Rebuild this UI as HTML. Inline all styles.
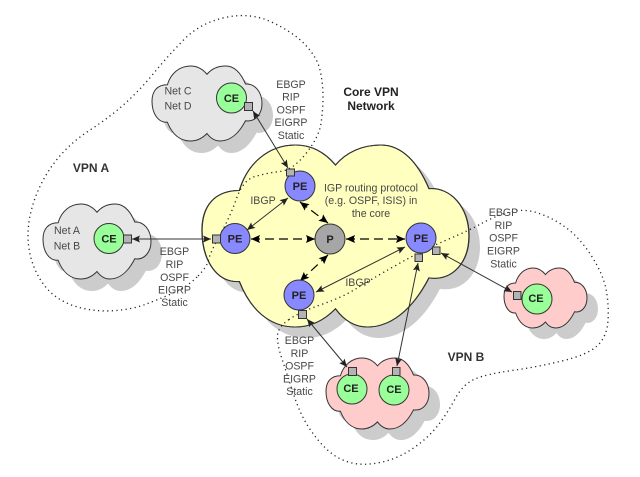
<!DOCTYPE html>
<html><head><meta charset="utf-8">
<style>
html,body{margin:0;padding:0;background:#fff;width:640px;height:477px;overflow:hidden}
svg{display:block}
text{font-family:"Liberation Sans",Arial,sans-serif}
.t text,.t{font-size:10.6px;fill:#484848;text-anchor:middle}
.b{font-size:12px;font-weight:bold;fill:#333;text-anchor:middle}
.h{font-size:12px;font-weight:bold;fill:#222;text-anchor:middle}
.n{font-size:11px;font-weight:bold;fill:#222;text-anchor:middle}
.c{vector-effect:non-scaling-stroke}
</style></head><body>
<svg width="640" height="477" viewBox="0 0 640 477" xmlns="http://www.w3.org/2000/svg">
<defs>
<path id="cl" d="M14,75C5,76 0,62 0,47C0,33 5,25 14,25C17,10 25,0 35,0C41,0 46,4 50,11C54,4 60,0 67,0C75,0 81,10 85,24C93,23 100,34 100,50C100,64 94,75 85,73C79,90 71,100 62,100C57,100 53,96 50,90C46,96 41,100 35,100C25,100 18,90 14,75Z"/>
<marker id="a" viewBox="0 0 8 8" refX="8" refY="4" markerWidth="8" markerHeight="8" markerUnits="userSpaceOnUse" orient="auto-start-reverse"><path d="M0,0.5L8,4L0,7.5L1.5,4Z" fill="#222"/></marker>
<marker id="d" viewBox="0 0 9 9" refX="9" refY="4.5" markerWidth="9" markerHeight="9" markerUnits="userSpaceOnUse" orient="auto-start-reverse"><path d="M0,0.5L9,4.5L0,8.5L1.5,4.5Z" fill="#000"/></marker>
</defs>
<rect width="640" height="477" fill="#fff"/>

<!-- shadows -->
<g fill="#ccc">
<use href="#cl" transform="translate(213,156) scale(2.67,1.82)"/>
<use href="#cl" transform="translate(163,78) scale(1.10,.75)"/>
<use href="#cl" transform="translate(54,216) scale(1.08,.75)"/>
<use href="#cl" transform="translate(515,279) scale(.83,.60)"/>
<use href="#cl" transform="translate(337,369) scale(1.03,.71)"/>
</g>
<!-- clouds -->
<g stroke="#333" stroke-width="1">
<use href="#cl" class="c" fill="#ffffc0" stroke-width="0.5" transform="translate(202,145) scale(2.67,1.82)"/>
<path d="M14,75C5,76 0,62 0,47C0,33 5,25 14,25C17,10 25,0 35,0C41,0 46,4 50,11C54,4 60,0 67,0C75,0 81,10 85,24C93,23 100,34 100,50C100,64 94,75 85,73C79,90 71,100 62,100C57,100 53,96 50,90C46,96 41,100 35,100C25,100 18,90 14,75Z" class="c" fill="none" transform="translate(202,145) scale(2.67,1.82)"/>
<path d="M14,75C5,76 0,62 0,47C0,33 5,25 14,25C17,10 25,0 35,0C41,0 46,4 50,11C54,4 60,0 67,0C75,0 81,10 85,24C93,23 100,34 100,50C100,64 94,75 85,73C79,90 71,100 62,100C57,100 53,96 50,90C46,96 41,100 35,100C25,100 18,90 14,75Z" class="c" fill="#e6e6e6" transform="translate(152,66) scale(1.10,.75)"/>
<path d="M14,75C5,76 0,62 0,47C0,33 5,25 14,25C17,10 25,0 35,0C41,0 46,4 50,11C54,4 60,0 67,0C75,0 81,10 85,24C93,23 100,34 100,50C100,64 94,75 85,73C79,90 71,100 62,100C57,100 53,96 50,90C46,96 41,100 35,100C25,100 18,90 14,75Z" class="c" fill="#e6e6e6" transform="translate(43,204) scale(1.08,.75)"/>
<path d="M14,75C5,76 0,62 0,47C0,33 5,25 14,25C17,10 25,0 35,0C41,0 46,4 50,11C54,4 60,0 67,0C75,0 81,10 85,24C93,23 100,34 100,50C100,64 94,75 85,73C79,90 71,100 62,100C57,100 53,96 50,90C46,96 41,100 35,100C25,100 18,90 14,75Z" class="c" fill="#ffcccc" transform="translate(504,268) scale(.83,.60)"/>
<path d="M14,75C5,76 0,62 0,47C0,33 5,25 14,25C17,10 25,0 35,0C41,0 46,4 50,11C54,4 60,0 67,0C75,0 81,10 85,24C93,23 100,34 100,50C100,64 94,75 85,73C79,90 71,100 62,100C57,100 53,96 50,90C46,96 41,100 35,100C25,100 18,90 14,75Z" class="c" fill="#ffcccc" transform="translate(326,358) scale(1.03,.71)"/>
</g>

<!-- dotted VPN regions -->
<g fill="none" stroke="#222" stroke-width="1.3" stroke-dasharray="1.2 3.4">
<path d="M197,277Q187,287 172,293.5Q157,300 145,304.5Q133,309 116.5,310.5Q100,312 83.5,308.5Q67,305 55,296Q43,287 35.5,270.5Q28,254 28,235.5Q28,217 35.5,197Q43,177 56.5,160Q70,143 90,130Q110,117 125,103.5Q140,90 153.5,73.5Q167,57 183.5,40Q200,23 225,17.5Q250,12 271.5,22Q293,32 305,44.5Q317,57 320,70Q323,83 323,96.5Q323,110 321,123.5Q319,137 306,153.5Q293,170 280,171.5Q267,173 255,176.5Q243,180 236.5,198.5Q230,217 220,235Q210,253 208.5,260Q207,267 197,277Z"/>
<path d="M289,319.5Q278,327 277.5,335.5Q277,344 282,359Q287,374 293.5,394Q300,414 308.5,427Q317,440 327,449.5Q337,459 350,462.5Q363,466 380,462.5Q397,459 412,449Q427,439 437,426.5Q447,414 455,399Q463,384 475,379Q487,374 512,370.5Q537,367 562,361Q587,355 597,346Q607,337 608,320.5Q609,304 606,289Q603,274 591.5,256Q580,238 566.5,228Q553,218 538,213Q523,208 508,212.5Q493,217 481.5,223.5Q470,230 446.5,240Q423,250 396.5,265Q370,280 356.5,288.5Q343,297 321.5,304.5Q300,312 289,319.5Z"/>
</g>

<!-- connectors -->
<g stroke="#333" stroke-width="1" fill="none" marker-start="url(#a)" marker-end="url(#a)">
<line x1="253" y1="111" x2="288" y2="168"/>
<line x1="132" y1="239" x2="211" y2="239"/>
<line x1="288" y1="198" x2="247" y2="230"/>
<line x1="405" y1="247" x2="316" y2="292"/>
<line x1="418" y1="263" x2="397" y2="366"/>
<line x1="441" y1="253" x2="512" y2="292"/>
<line x1="307" y1="319" x2="347" y2="367"/>
</g>
<g stroke="#000" stroke-width="1.2" fill="none" stroke-dasharray="9 5" marker-start="url(#d)" marker-end="url(#d)">
<line x1="251" y1="239" x2="315" y2="239"/>
<line x1="346" y1="239" x2="405" y2="239"/>
<line x1="300" y1="202" x2="328" y2="223"/>
<line x1="328" y1="255" x2="300" y2="281"/>
</g>

<!-- routers -->
<g stroke="#333" stroke-width="1">
<g fill="#8888ff">
<circle cx="300" cy="186" r="15"/><circle cx="235" cy="238.5" r="15"/><circle cx="421" cy="238" r="15"/><circle cx="299" cy="295" r="15"/>
</g>
<circle cx="330" cy="239" r="15" fill="#a6a6a6"/>
<g fill="#99ff99">
<circle cx="231.5" cy="98" r="15"/><circle cx="109" cy="238.5" r="15"/><circle cx="537" cy="299" r="15"/><circle cx="352" cy="389" r="15"/><circle cx="394" cy="390" r="15"/>
</g>
<g fill="#b3b3b3">
<rect x="244.5" y="102.5" width="8" height="8"/>
<rect x="123.5" y="235" width="8" height="8"/>
<rect x="212.5" y="235" width="8" height="8"/>
<rect x="286.5" y="169" width="8" height="7"/>
<rect x="298.5" y="310.5" width="8" height="8"/>
<rect x="415" y="254" width="7.5" height="7.5"/>
<rect x="432.5" y="247" width="7.5" height="7.5"/>
<rect x="513.5" y="291.5" width="7.5" height="8"/>
<rect x="348.5" y="367.5" width="8" height="8"/>
<rect x="392.5" y="367.5" width="7.5" height="8"/>
</g>
</g>

<!-- node labels -->
<g>
<text x="300" y="190" class="n">PE</text><text x="235" y="242.5" class="n">PE</text><text x="421" y="242" class="n">PE</text><text x="299" y="299" class="n">PE</text>
<text x="330" y="243" class="n">P</text>
<text x="231.5" y="102" class="n">CE</text><text x="109" y="242.5" class="n">CE</text><text x="536" y="302" class="n">CE</text><text x="351" y="392" class="n">CE</text><text x="394" y="393" class="n">CE</text>
</g>

<!-- text -->
<g class="t">
<text x="291" y="88">EBGP</text><text x="291" y="100.5">RIP</text><text x="291" y="113.5">OSPF</text><text x="291" y="126">EIGRP</text><text x="291" y="139">Static</text>
<text x="174.5" y="255">EBGP</text><text x="174.5" y="268">RIP</text><text x="174.5" y="281">OSPF</text><text x="174.5" y="293.5">EIGRP</text><text x="174.5" y="306">Static</text>
<text x="299.5" y="344">EBGP</text><text x="299.5" y="357">RIP</text><text x="299.5" y="369.5">OSPF</text><text x="299.5" y="382.5">EIGRP</text><text x="299.5" y="395">Static</text>
<text x="503.5" y="216">EBGP</text><text x="503.5" y="229">RIP</text><text x="503.5" y="241.5">OSPF</text><text x="503.5" y="254.5">EIGRP</text><text x="503.5" y="267.5">Static</text>
<text x="371" y="191.5">IGP routing protocol</text><text x="371" y="204">(e.g. OSPF, ISIS) in</text><text x="371" y="217">the core</text>
<text x="263" y="204">IBGP</text><text x="358" y="286">IBGP</text>
<text x="178" y="94.5">Net C</text><text x="178" y="109.5">Net D</text>
<text x="67" y="234">Net A</text><text x="67" y="249.5">Net B</text>
</g>
<text x="91" y="172" class="b">VPN A</text>
<text x="466" y="361" class="b">VPN B</text>
<text x="371" y="96" class="h">Core VPN</text>
<text x="371" y="110" class="h">Network</text>
</svg>
</body></html>
